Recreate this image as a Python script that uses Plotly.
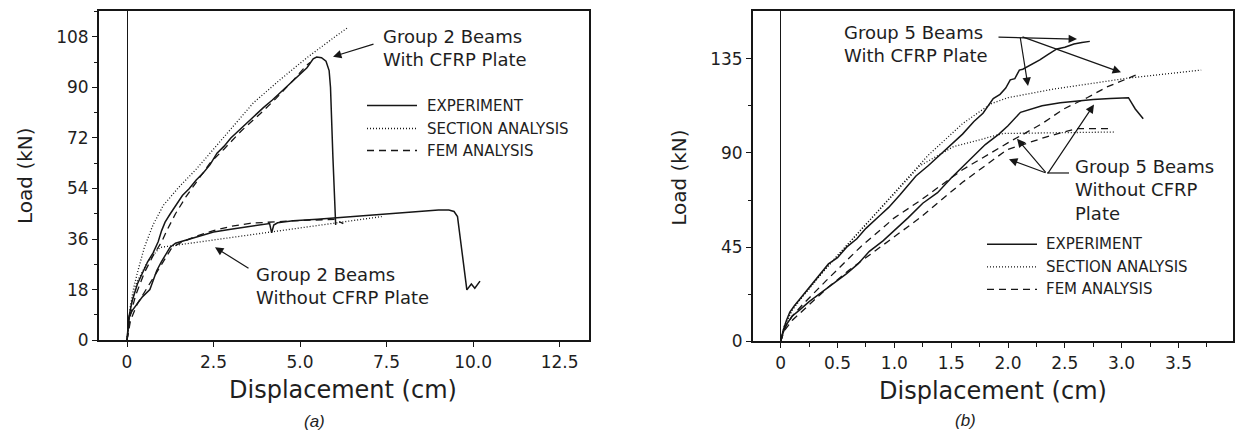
import plotly.graph_objects as go

W, H = 1235, 441

# ---------------- Panel (a): Group 2 beams ----------------
a_exp_with_x = [0, 0.05, 0.15, 0.3, 0.45, 0.6, 0.75, 0.9, 1.0, 1.1, 1.25, 1.4, 1.6, 1.8, 2.0, 2.2, 2.4, 2.6,
                2.8, 3.0, 3.3, 3.6, 3.94, 4.2, 4.5, 4.8, 5.0, 5.2, 5.38, 5.48, 5.62, 5.75, 5.84, 5.88, 5.95, 6.03]
a_exp_with_y = [0, 8, 14, 20, 24, 28, 31, 35, 39, 42, 45, 48, 51.5, 54, 57, 59.5, 62.5, 66.6,
                69, 72, 75.5, 79, 82.8, 85.5, 89, 92.5, 94.5, 97, 100.2, 100.8, 100.6, 99.3, 96, 90, 65, 41]
a_sec_with_x = [0, 0.1, 0.18, 0.3, 0.5, 0.75, 1.05, 1.5, 2.01, 2.8, 3.65, 4.4, 5.19, 6.06, 6.4]
a_sec_with_y = [0, 12, 17.9, 24, 33, 41, 48, 54.5, 61, 72.5, 84.5, 92.5, 100.5, 108.5, 111.5]
a_fem_with_x = [0, 0.1, 0.25, 0.5, 0.75, 1.0, 1.15, 1.4, 1.7, 2.0, 2.4, 2.8, 3.3, 3.84, 4.3, 4.8, 5.19, 5.3]
a_fem_with_y = [0, 9, 16, 24, 30, 35, 39, 45, 51, 56, 63.1, 68, 74.5, 80.5, 86, 92.5, 97.9, 99]

a_exp_wo_x = [0, 0.03, 0.07, 0.15, 0.3, 0.45, 0.66, 0.86, 1.0, 1.12, 1.24, 1.4, 1.8, 2.1, 2.5, 3.0, 3.5, 4.0,
              4.12, 4.18, 4.24, 4.35, 4.8, 5.5, 6.0, 6.5, 7.0, 7.5, 8.0, 8.5, 9.0, 9.3, 9.45, 9.55, 9.65, 9.75,
              9.82, 9.95, 10.05, 10.2]
a_exp_wo_y = [0, 4, 8.6, 10.5, 13, 15.5, 18, 24.8, 28, 30.5, 33, 34.5, 36, 37, 38.5, 39.5, 40.5, 41.5,
              41.5, 38.2, 41, 41.8, 42.5, 43, 43.5, 44, 44.5, 45, 45.5, 46, 46.3, 46.3, 45.8, 44, 35, 25,
              17.9, 20, 18.5, 21]
a_sec_wo_x = [0, 0.1, 0.3, 0.6, 0.95, 2.0, 3.0, 4.2, 5.0, 6.0, 7.36]
a_sec_wo_y = [0, 12, 21, 28, 33, 34.8, 36.5, 38.5, 40, 41.8, 44]
a_fem_wo_x = [0, 0.1, 0.3, 0.6, 0.9, 1.1, 1.3, 1.6, 2.0, 2.5, 3.0, 3.55, 4.0, 4.5, 5.0, 5.5, 6.0, 6.25]
a_fem_wo_y = [0, 7, 13, 19, 25, 29, 33, 35, 37, 39, 40.5, 41.6, 42, 42.3, 42.6, 42.8, 43, 41.5]

a_xticks = [0, 2.5, 5.0, 7.5, 10.0, 12.5]
a_xlabels = ["0", "2.5", "5.0", "7.5", "10.0", "12.5"]
a_yticks = [0, 18, 36, 54, 72, 90, 108]

# ---------------- Panel (b): Group 5 beams ----------------
b_exp_with_x = [0, 0.02, 0.05, 0.08, 0.12, 0.18, 0.25, 0.33, 0.42, 0.5, 0.58, 0.67, 0.75, 0.87, 0.95, 1.05,
                1.19, 1.3, 1.4, 1.5, 1.6, 1.7, 1.78, 1.87, 1.93, 1.98, 2.02, 2.06, 2.1, 2.13, 2.2, 2.28, 2.35,
                2.43, 2.5, 2.58, 2.65, 2.72]
b_exp_with_y = [0, 5, 10, 14, 17, 21, 26, 31, 37, 40, 45, 49, 54, 60, 64, 70,
                79, 84, 89, 94, 99, 105, 109, 116, 118, 121, 124.9, 125.5, 129.6, 130, 132, 134.5, 137,
                139.7, 140.5, 142, 142.8, 143.3]
b_sec_with_x = [0, 0.03, 0.1, 0.2, 0.4, 0.7, 1.0, 1.3, 1.6, 1.85, 2.0, 2.4, 3.05, 3.7]
b_sec_with_y = [0, 7, 15, 22, 35, 53, 71, 89, 104, 113.5, 116.4, 120.5, 125.7, 129.6]
b_fem_with_x = [0, 0.03, 0.1, 0.2, 0.4, 0.7, 1.0, 1.22, 1.6, 2.02, 2.3, 2.49, 2.7, 2.87, 3.13]
b_fem_with_y = [0, 6, 12, 18, 29, 45, 59, 67, 82, 95.5, 104, 111, 116.5, 121.5, 127.3]

b_exp_wo_x = [0, 0.02, 0.05, 0.1, 0.17, 0.25, 0.35, 0.45, 0.58, 0.68, 0.78, 0.9, 1.0, 1.12, 1.25, 1.38,
              1.5, 1.65, 1.8, 1.92, 2.0, 2.11, 2.2, 2.3, 2.46, 2.6, 2.75, 2.9, 2.99, 3.06, 3.12, 3.19]
b_exp_wo_y = [0, 4, 8, 12, 15.2, 19, 23, 27, 32.4, 37, 43, 48, 53, 59, 66, 71,
              78, 86, 94, 99, 103, 109.4, 111, 112.5, 114, 114.8, 115.5, 116, 116.4, 116.4, 111, 106.3]
b_sec_wo_x = [0, 0.03, 0.1, 0.2, 0.4, 0.7, 1.0, 1.22, 1.52, 1.96, 2.5, 2.93]
b_sec_wo_y = [0, 7, 15, 22, 35, 53, 71, 83.7, 93, 99.3, 99.7, 100]
b_fem_wo_x = [0, 0.03, 0.1, 0.2, 0.4, 0.6, 0.8, 0.96, 1.22, 1.6, 1.99, 2.34, 2.6, 2.9]
b_fem_wo_y = [0, 5, 10, 15, 25, 34, 42, 48, 58.8, 76, 91.5, 97.7, 101.6, 101.6]

b_xticks = [0, 0.5, 1.0, 1.5, 2.0, 2.5, 3.0, 3.5]
b_xlabels = ["0", "0.5", "1.0", "1.5", "2.0", "2.5", "3.0", "3.5"]
b_yticks = [0, 45, 90, 135]

legend_labels = ["EXPERIMENT", "SECTION ANALYSIS", "FEM ANALYSIS"]

# ---------------- styling ----------------
INK = "#161616"
TXT = "#1e1e1e"
FONT = "DejaVu Sans"
DASH = {"exp": "solid", "sec": "1px,2px", "fem": "7px,5px"}
WID = {"exp": 1.5, "sec": 1.3, "fem": 1.3}


def P(px, py):
    return px / W, 1 - py / H


fig = go.Figure()


def add(x, y, kind, xa, ya):
    fig.add_trace(go.Scatter(x=x, y=y, mode="lines", xaxis=xa, yaxis=ya, showlegend=False,
                             hoverinfo="skip",
                             line=dict(color=INK, width=WID[kind], dash=DASH[kind])))


add(a_exp_with_x, a_exp_with_y, "exp", "x", "y")
add(a_sec_with_x, a_sec_with_y, "sec", "x", "y")
add(a_fem_with_x, a_fem_with_y, "fem", "x", "y")
add(a_exp_wo_x, a_exp_wo_y, "exp", "x", "y")
add(a_sec_wo_x, a_sec_wo_y, "sec", "x", "y")
add(a_fem_wo_x, a_fem_wo_y, "fem", "x", "y")

add(b_exp_with_x, b_exp_with_y, "exp", "x2", "y2")
add(b_sec_with_x, b_sec_with_y, "sec", "x2", "y2")
add(b_fem_with_x, b_fem_with_y, "fem", "x2", "y2")
add(b_exp_wo_x, b_exp_wo_y, "exp", "x2", "y2")
add(b_sec_wo_x, b_sec_wo_y, "sec", "x2", "y2")
add(b_fem_wo_x, b_fem_wo_y, "fem", "x2", "y2")

axis_common = dict(showgrid=False, showline=True, mirror=True, linecolor=INK, linewidth=2,
                   ticks="outside", ticklen=5, tickwidth=1.3, tickcolor=INK,
                   tickfont=dict(family=FONT, size=17, color=TXT))

fig.update_layout(
    width=W, height=H, margin=dict(l=0, r=0, t=0, b=0),
    paper_bgcolor="white", plot_bgcolor="white", showlegend=False,
    xaxis=dict(domain=[99 / W, 589 / W], range=[-0.81, 13.35], tickvals=a_xticks, ticktext=a_xlabels,
               anchor="y", zeroline=True, zerolinecolor=INK, zerolinewidth=1.4, **axis_common),
    yaxis=dict(domain=[1 - 348 / H, 1 - 11 / H], range=[0, 117.3], tickvals=a_yticks, anchor="x",
               zeroline=False,
               minor=dict(dtick=9, ticklen=3, tickcolor=INK, ticks="outside"), **axis_common),
    xaxis2=dict(domain=[753 / W, 1233 / W], range=[-0.244, 3.98], tickvals=b_xticks, ticktext=b_xlabels,
                anchor="y2", zeroline=True, zerolinecolor=INK, zerolinewidth=1.4,
                minor=dict(tickvals=[0.25, 0.75, 1.25, 1.75, 2.25, 2.75, 3.25, 3.75], ticklen=4,
                           tickcolor=INK, ticks="outside"),
                **axis_common),
    yaxis2=dict(domain=[1 - 349.3 / H, 1 - 11.7 / H], range=[0, 157.6], tickvals=b_yticks, anchor="x2",
                zeroline=False,
                minor=dict(tickvals=[22.5, 67.5, 112.5], ticklen=3, tickcolor=INK, ticks="outside"),
                **axis_common),
)

annotations = []
shapes = []


def text(px, py, s, size, anchor="left", angle=0, italic=False, family=FONT):
    x, y = P(px, py)
    annotations.append(dict(x=x, y=y, xref="paper", yref="paper", text=s, showarrow=False,
                            xanchor=anchor, yanchor="middle", textangle=angle, align="left",
                            font=dict(family=family, size=size, color=TXT,
                                      style="italic" if italic else "normal")))


def arrow(tx, ty, hx, hy):
    x, y = P(hx, hy)
    annotations.append(dict(x=x, y=y, xref="paper", yref="paper", text="", showarrow=True,
                            ax=tx - hx, ay=ty - hy, arrowhead=2, arrowsize=1.4, arrowwidth=1.2,
                            arrowcolor=INK, standoff=0, startstandoff=0))


def seg(x0, y0, x1, y1, dash="solid", width=1.2):
    a0, b0 = P(x0, y0)
    a1, b1 = P(x1, y1)
    shapes.append(dict(type="line", xref="paper", yref="paper", x0=a0, y0=b0, x1=a1, y1=b1,
                       line=dict(color=INK, width=width, dash=dash)))


# axis titles
text(25, 180, "Load (kN)", 20, anchor="center", angle=-90)
text(679, 182, "Load (kN)", 20, anchor="center", angle=-90)
text(343, 399, "Displacement (cm)", 24, anchor="center")
text(993, 400, "Displacement (cm)", 24, anchor="center")
text(314, 431, "(a)", 17, anchor="center", italic=True, family="Liberation Sans")
text(965, 430, "(b)", 17, anchor="center", italic=True, family="Liberation Sans")

# panel (a) labels
text(381, 49, "Group 2 Beams<br>With CFRP Plate", 18)
arrow(375, 45, 333, 58)
text(254, 293, "Group 2 Beams<br>Without CFRP Plate", 18)
arrow(250, 275, 215, 253)

# panel (b) labels
text(842, 45, "Group 5 Beams<br>With CFRP Plate", 18)
arrow(997, 38, 1077, 40)
arrow(1020, 38, 1028, 88)
arrow(1021, 38, 1121, 74)
text(1073, 194, "Group 5 Beams<br>Without CFRP<br>Plate", 18)
seg(1047, 177, 1069, 177)
arrow(1047, 177, 1017, 142)
arrow(1047, 177, 1009, 163)
arrow(1047, 177, 1094, 107)

# legends
kinds = ["exp", "sec", "fem"]
for (lx0, lx1, tx, rows) in [(367, 417, 425, [108, 131.5, 154]), (987, 1037, 1044, [250, 273, 296])]:
    for k, lab, ry in zip(kinds, legend_labels, rows):
        seg(lx0, ry, lx1, ry, dash=DASH[k], width=WID[k])
        text(tx, ry, lab, 15)

fig.update_layout(annotations=annotations, shapes=shapes)
fig.write_html("out.html")
